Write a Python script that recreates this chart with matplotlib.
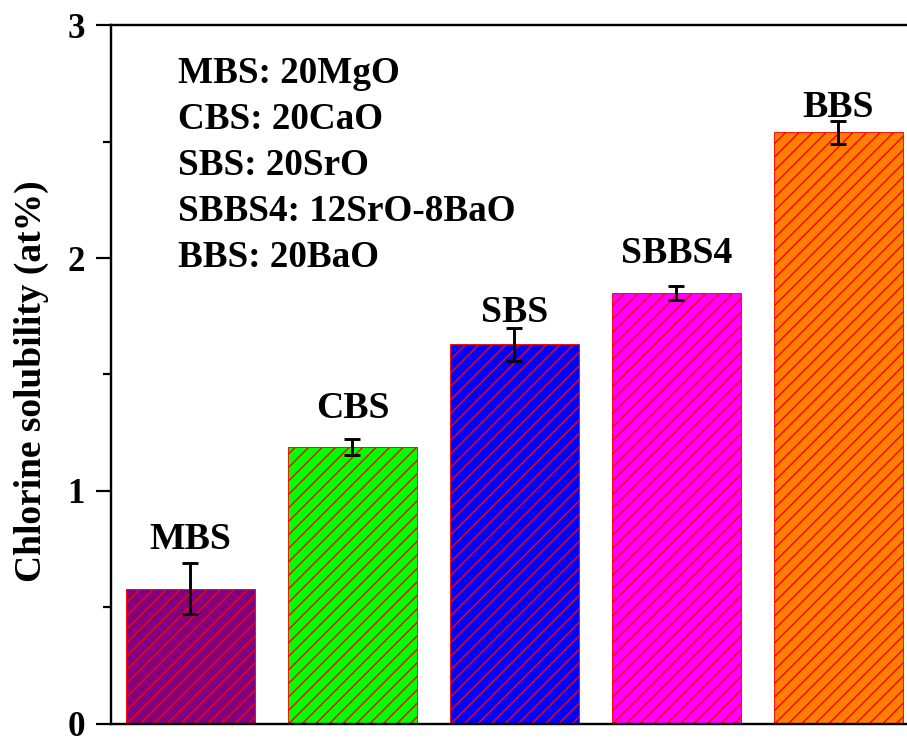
import matplotlib
matplotlib.use("Agg")
import matplotlib.pyplot as plt
from matplotlib.ticker import MultipleLocator

# Chlorine solubility of the alkaline-earth borosilicate glasses
samples = ["MBS", "CBS", "SBS", "SBBS4", "BBS"]
solubility = [0.58, 1.19, 1.63, 1.85, 2.54]
errors = [0.11, 0.035, 0.07, 0.03, 0.05]
bar_colors = ["#800080", "#00FF00", "#0000FF", "#FF00FF", "#FF8000"]
compositions = ["MBS: 20MgO", "CBS: 20CaO", "SBS: 20SrO",
                "SBBS4: 12SrO-8BaO", "BBS: 20BaO"]

DPI = 162


def px(v):
    """Convert a size in output pixels to points."""
    return v * 72.0 / DPI


plt.rcParams["font.family"] = ["Liberation Serif", "DejaVu Serif"]
plt.rcParams["font.weight"] = "bold"
plt.rcParams["hatch.linewidth"] = px(1.4)

fig = plt.figure(figsize=(907 / DPI, 738 / DPI), dpi=DPI)
ax = fig.add_axes([0.1224, 0.0190, 0.9092, 0.9471])

x = list(range(len(samples)))
ax.bar(x, solubility, width=0.8, color=bar_colors, edgecolor="red",
       linewidth=px(0.9), hatch="////")
ax.errorbar(x, solubility, yerr=errors, fmt="none", ecolor="black",
            elinewidth=px(2.9), capsize=px(8), capthick=px(2.9))

# sample name above each error bar
label_gap_px = [14, 21, 6, 23, 4]
for xi, name, v, e, gap in zip(x, samples, solubility, errors, label_gap_px):
    ax.annotate(name, xy=(xi, v + e), xytext=(0, px(gap)),
                textcoords="offset points", ha="center", va="baseline",
                fontsize=px(37.8), fontweight="bold")

ax.text(0.196, 1 - 56 / 738, "\n".join(compositions),
        transform=fig.transFigure, ha="left", va="top",
        fontsize=px(37.1), fontweight="bold", linespacing=1.41)

ax.set_xlim(-0.49, 4.6)
ax.set_ylim(0, 3)
ax.yaxis.set_major_locator(MultipleLocator(1))
ax.yaxis.set_minor_locator(MultipleLocator(0.5))
ax.set_xticks([])
ax.tick_params(axis="y", which="major", direction="out", length=px(15),
               width=px(2.2), labelsize=px(35), pad=px(11))
ax.tick_params(axis="y", which="minor", direction="out", length=px(8),
               width=px(2.2))
for lbl in ax.get_yticklabels():
    lbl.set_fontweight("bold")
for side in ("left", "top", "bottom", "right"):
    ax.spines[side].set_linewidth(px(2.4))

ax.set_ylabel("Chlorine solubility (at%)", fontsize=px(37.5),
              fontweight="bold", labelpad=px(18), y=0.49)

fig.savefig("out.png", dpi=DPI)
